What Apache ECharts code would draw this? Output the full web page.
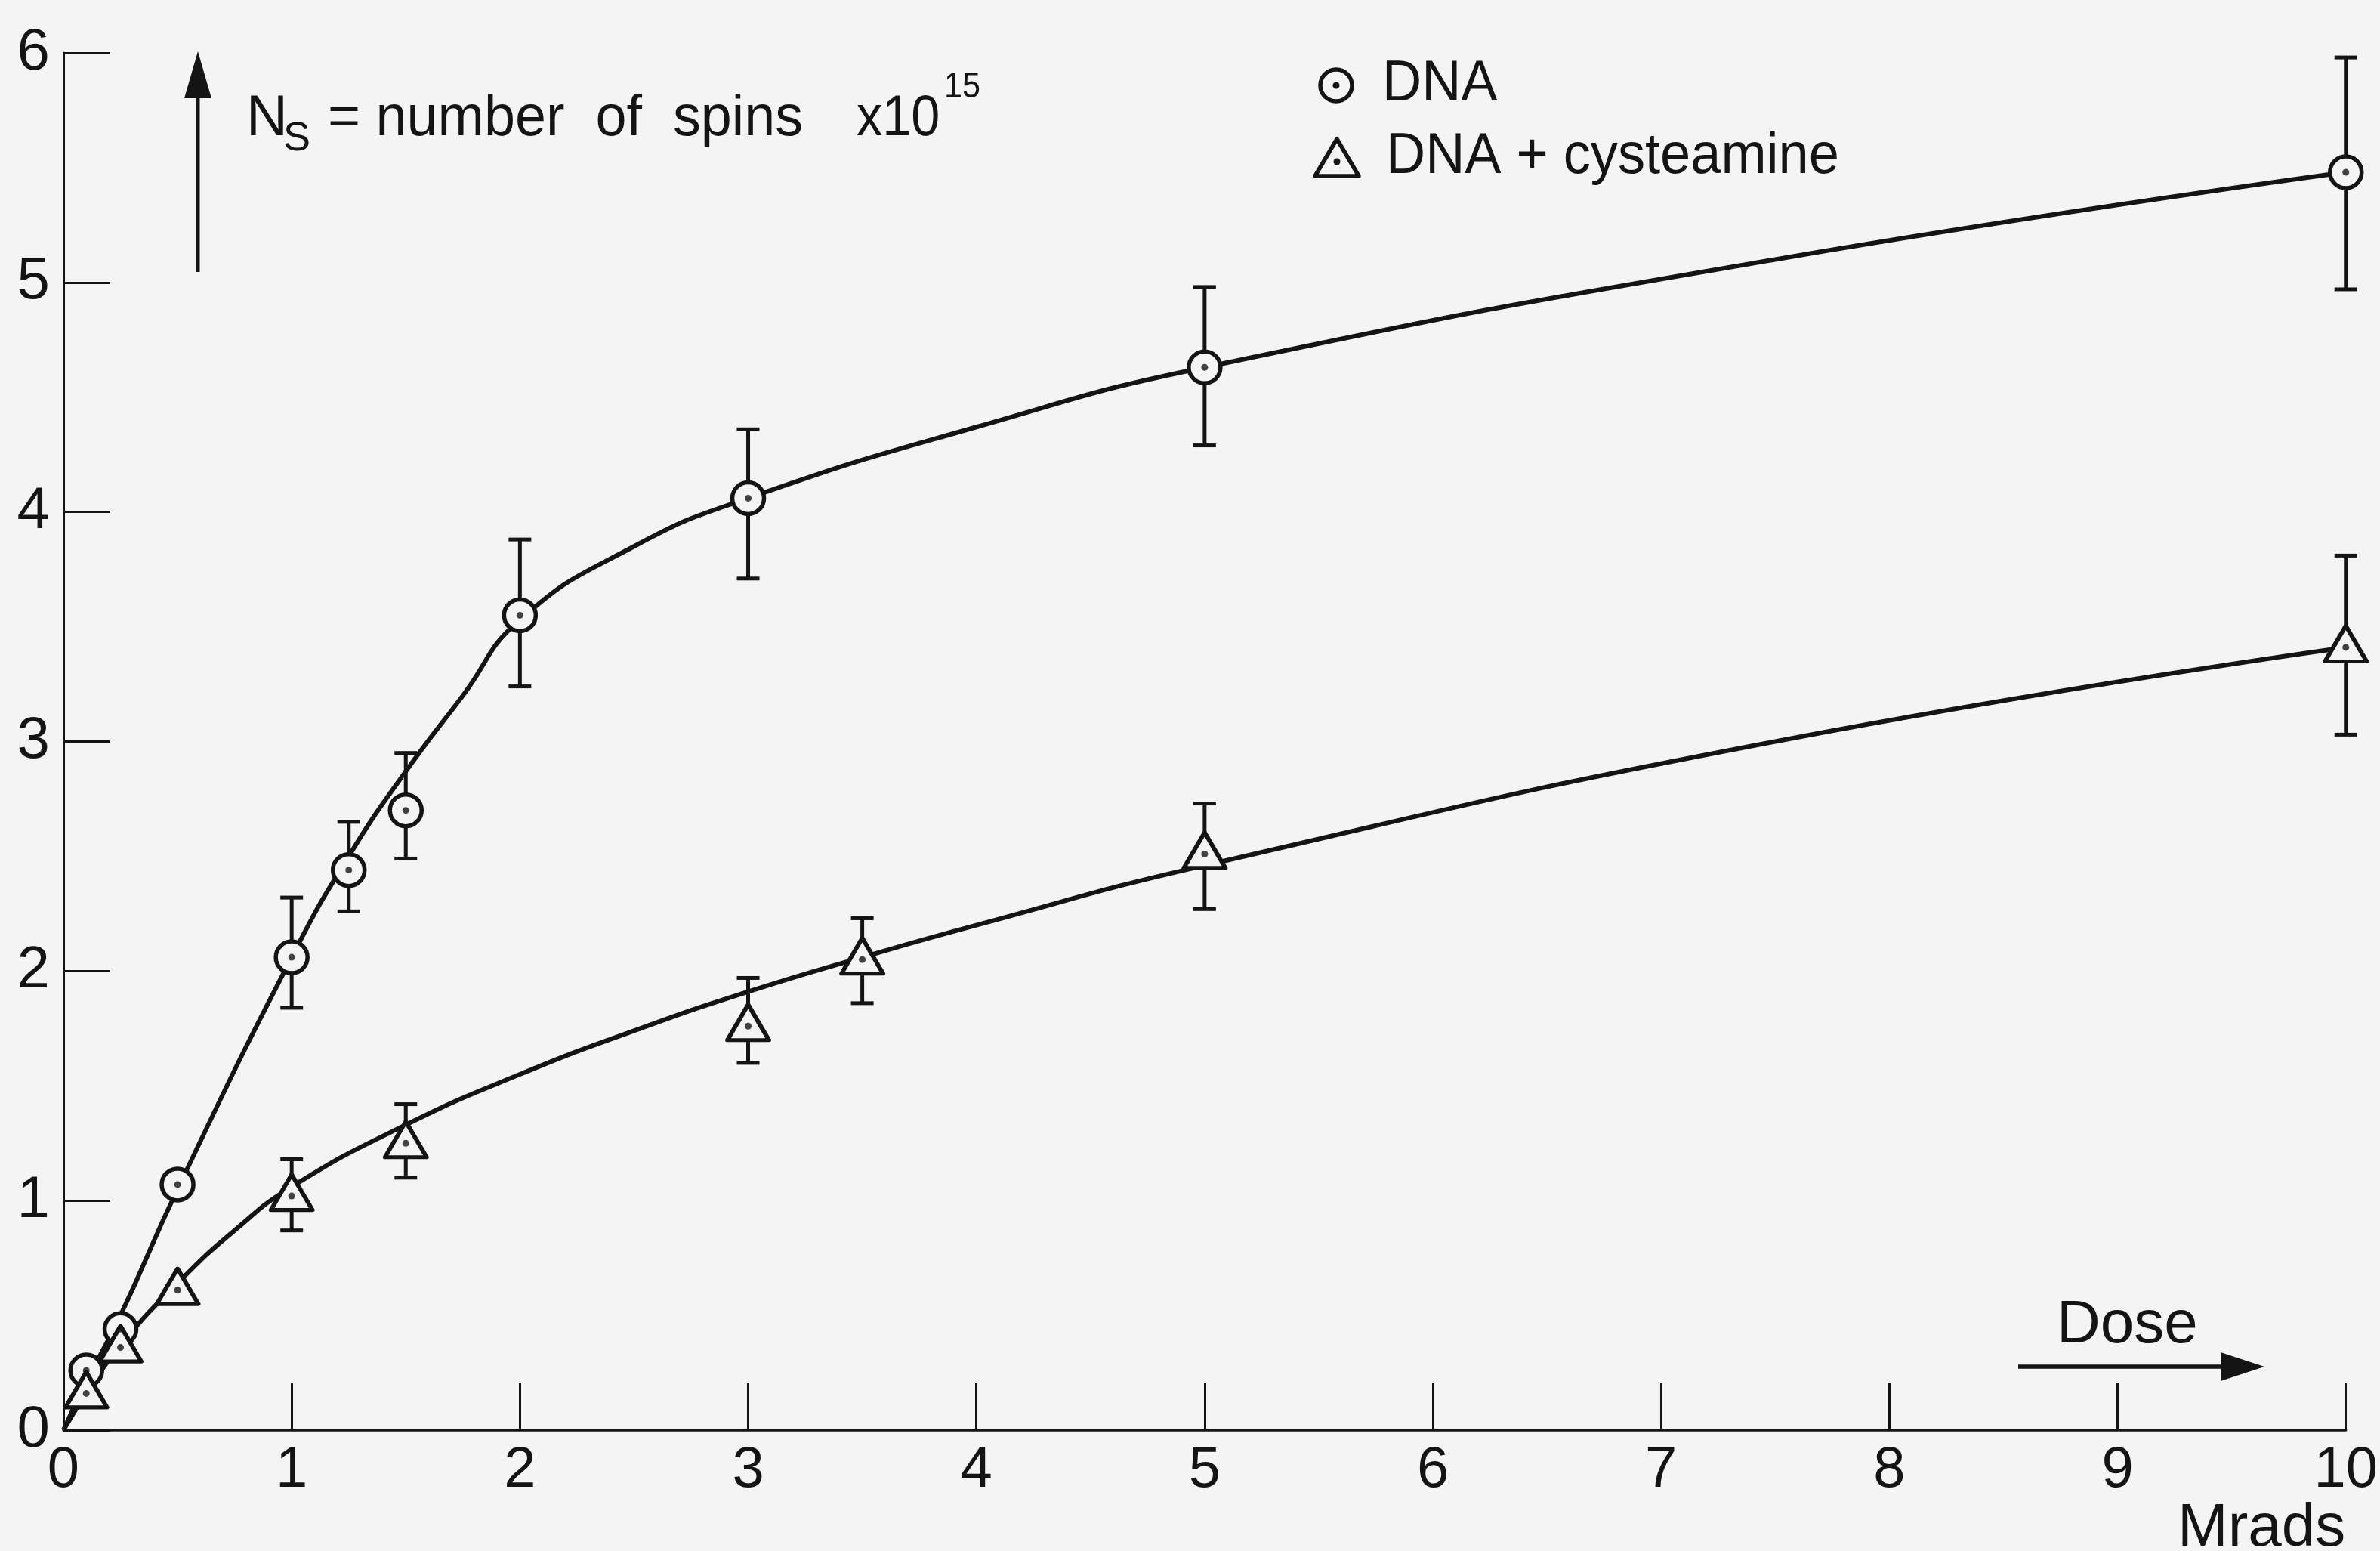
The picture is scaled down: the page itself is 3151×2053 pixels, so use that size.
<!DOCTYPE html>
<html>
<head>
<meta charset="utf-8">
<script src="https://cdn.jsdelivr.net/npm/echarts@6/dist/echarts.min.js"></script>
<style>
html,body{margin:0;padding:0;background:#f4f4f4;}
#chart{width:3151px;height:2053px;}
</style>
</head>
<body>
<div id="chart"></div>
<script>
// ---- data ----
const xTicks = [0,1,2,3,4,5,6,7,8,9,10];          // Mrads
const yTicks = [0,1,2,3,4,5,6];                    // Ns x10^15

// DNA (circles)
const dnaDoses = [0.1, 0.25, 0.5, 1, 1.25, 1.5, 2, 3, 5, 10];
const dnaNs    = [0.26, 0.44, 1.07, 2.06, 2.44, 2.70, 3.55, 4.06, 4.63, 5.48];
const dnaErrDoses = [1, 1.25, 1.5, 2, 3, 5, 10];
const dnaErrLow   = [1.84, 2.26, 2.49, 3.24, 3.71, 4.29, 4.97];
const dnaErrHigh  = [2.32, 2.65, 2.95, 3.88, 4.36, 4.98, 5.98];
// drawn curve through DNA points
const dnaCurveDoses = [0, 0.1, 0.25, 0.5, 1, 1.25, 1.5, 1.75, 2, 2.5, 3, 4, 5, 7.5, 10];
const dnaCurveNs    = [0, 0.21, 0.5, 1.05, 2.06, 2.5, 2.87, 3.2, 3.53, 3.85, 4.06, 4.37, 4.63, 5.1, 5.48];

// DNA + cysteamine (triangles)
const cysDoses = [0.1, 0.25, 0.5, 1, 1.5, 3, 3.5, 5, 10];
const cysNs    = [0.16, 0.36, 0.61, 1.02, 1.25, 1.76, 2.05, 2.51, 3.41];
const cysErrDoses = [1, 1.5, 3, 3.5, 5, 10];
const cysErrLow   = [0.87, 1.10, 1.60, 1.86, 2.27, 3.03];
const cysErrHigh  = [1.18, 1.42, 1.97, 2.23, 2.73, 3.81];
// drawn curve through DNA + cysteamine points
const cysCurveDoses = [0, 0.1, 0.25, 0.5, 0.75, 1, 1.5, 2, 2.5, 3, 3.5, 4, 5, 7.5, 10];
const cysCurveNs    = [0, 0.16, 0.37, 0.64, 0.87, 1.06, 1.33, 1.55, 1.74, 1.91, 2.06, 2.2, 2.46, 3.0, 3.41];

const seriesNames = ['DNA', 'DNA + cysteamine'];

// ---- styling ----
const INK = '#141414';
const BG = '#f4f4f4';
const FONT = '"Liberation Sans", Arial, sans-serif';
const NARROW = '"Liberation Sans Narrow", "Liberation Sans", sans-serif';

const chart = echarts.init(document.getElementById('chart'), null, {renderer: 'canvas'});

function errBar(params, api) {
  const x = api.value(0);
  const lo = api.coord([x, api.value(1)]);
  const hi = api.coord([x, api.value(2)]);
  const w = 15;
  const st = {stroke: INK, lineWidth: 5};
  return {
    type: 'group',
    children: [
      {type: 'line', shape: {x1: lo[0], y1: lo[1], x2: hi[0], y2: hi[1]}, style: st},
      {type: 'line', shape: {x1: lo[0] - w, y1: lo[1], x2: lo[0] + w, y2: lo[1]}, style: st},
      {type: 'line', shape: {x1: hi[0] - w, y1: hi[1], x2: hi[0] + w, y2: hi[1]}, style: st}
    ]
  };
}

const zip = (a, b) => a.map((v, i) => [v, b[i]]);
const zip3 = (a, b, c) => a.map((v, i) => [v, b[i], c[i]]);

function txt(x, y, text, size, family, sx) {
  return {
    type: 'text', x: x, y: y, z: 10, scaleX: sx || 1,
    style: {text: text, fontSize: size, fontFamily: family || FONT, fill: INK,
            align: 'left', verticalAlign: 'middle'}
  };
}

const option = {
  backgroundColor: BG,
  animation: false,
  grid: {left: 84, right: 31, top: 70, bottom: 160, containLabel: false},
  xAxis: {
    type: 'value', min: 0, max: 10, interval: 1,
    axisLine: {show: true, onZero: false, lineStyle: {color: INK, width: 3.5}},
    axisTick: {show: true, inside: true, length: 62, lineStyle: {color: INK, width: 3}},
    axisLabel: {show: true, margin: 16, fontSize: 76, fontFamily: NARROW, color: INK,
                formatter: v => String(v)},
    splitLine: {show: false}
  },
  yAxis: {
    type: 'value', min: 0, max: 6, interval: 1,
    axisLine: {show: true, onZero: false, lineStyle: {color: INK, width: 3}},
    axisTick: {show: true, inside: true, length: 62, lineStyle: {color: INK, width: 3}},
    axisLabel: {show: true, margin: 18, fontSize: 78, fontFamily: NARROW, color: INK,
                formatter: v => String(v)},
    splitLine: {show: false}
  },
  series: [
    {
      name: seriesNames[0] + ' curve', type: 'line', z: 1,
      data: zip(dnaCurveDoses, dnaCurveNs),
      smooth: 0.5, showSymbol: false, symbol: 'none',
      lineStyle: {color: INK, width: 6}
    },
    {
      name: seriesNames[1] + ' curve', type: 'line', z: 1,
      data: zip(cysCurveDoses, cysCurveNs),
      smooth: 0.5, showSymbol: false, symbol: 'none',
      lineStyle: {color: INK, width: 6}
    },
    {
      name: seriesNames[0] + ' error', type: 'custom', z: 2,
      renderItem: errBar, encode: {x: 0, y: [1, 2]},
      data: zip3(dnaErrDoses, dnaErrLow, dnaErrHigh)
    },
    {
      name: seriesNames[1] + ' error', type: 'custom', z: 2,
      renderItem: errBar, encode: {x: 0, y: [1, 2]},
      data: zip3(cysErrDoses, cysErrLow, cysErrHigh)
    },
    {
      name: seriesNames[0], type: 'scatter', z: 3,
      data: zip(dnaDoses, dnaNs),
      symbol: 'circle', symbolSize: 42,
      itemStyle: {color: BG, borderColor: INK, borderWidth: 5.5, opacity: 1}
    },
    {
      name: seriesNames[1], type: 'scatter', z: 3,
      data: zip(cysDoses, cysNs),
      symbol: 'triangle', symbolSize: [55, 47], symbolOffset: [0, -5],
      itemStyle: {color: BG, borderColor: INK, borderWidth: 5.5, borderJoin: 'round', opacity: 1}
    },
    {
      name: seriesNames[0] + ' centre', type: 'scatter', z: 4,
      data: zip(dnaDoses, dnaNs), symbol: 'circle', symbolSize: 9,
      itemStyle: {color: INK}
    },
    {
      name: seriesNames[1] + ' centre', type: 'scatter', z: 4,
      data: zip(cysDoses, cysNs), symbol: 'circle', symbolSize: 9,
      itemStyle: {color: INK}
    }
  ],
  graphic: [
    // vertical arrow beside the y quantity
    {type: 'line', z: 10, shape: {x1: 262, y1: 360, x2: 262, y2: 115}, style: {stroke: INK, lineWidth: 5}},
    {type: 'polygon', z: 10, shape: {points: [[262, 68], [244, 130], [280, 130]]}, style: {fill: INK}},
    txt(326, 158, 'N', 76),
    txt(375, 184, 'S', 54),
    txt(434, 158, '= number  of  spins', 76, FONT, 0.97),
    txt(1134, 158, 'x10', 76, FONT, 0.9),
    txt(1250, 116, '15', 48, FONT, 0.9),
    // legend
    {type: 'circle', z: 10, shape: {cx: 1769, cy: 113, r: 21}, style: {fill: 'none', stroke: INK, lineWidth: 5.5}},
    {type: 'circle', z: 10, shape: {cx: 1769, cy: 113, r: 4.5}, style: {fill: INK}},
    txt(1830, 112, seriesNames[0], 76, FONT, 0.95),
    {type: 'polygon', z: 10, shape: {points: [[1770, 184], [1741, 233], [1799, 233]]},
     style: {fill: 'none', stroke: INK, lineWidth: 5.5, lineJoin: 'round'}},
    {type: 'circle', z: 10, shape: {cx: 1770, cy: 214, r: 4.5}, style: {fill: INK}},
    txt(1835, 208, seriesNames[1], 76, FONT, 0.95),
    // Dose arrow
    txt(2723, 1755, 'Dose', 80),
    {type: 'line', z: 10, shape: {x1: 2672, y1: 1809, x2: 2950, y2: 1809}, style: {stroke: INK, lineWidth: 5.5}},
    {type: 'polygon', z: 10, shape: {points: [[2998, 1809], [2940, 1790], [2940, 1828]]}, style: {fill: INK}},
    txt(2883, 2024, 'Mrads', 80)
  ]
};

chart.setOption(option);
</script>
</body>
</html>
